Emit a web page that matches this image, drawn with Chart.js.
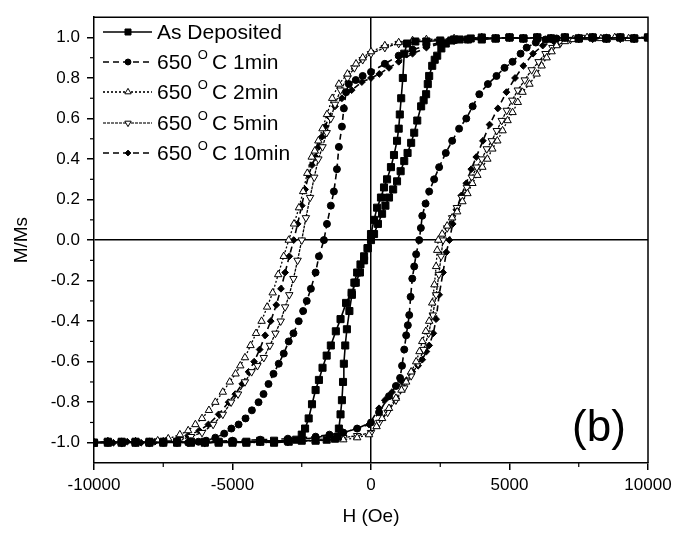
<!DOCTYPE html>
<html>
<head>
<meta charset="utf-8">
<script src="https://cdn.jsdelivr.net/npm/chart.js@4.4.1/dist/chart.umd.min.js"></script>
<style>
  html, body { margin: 0; padding: 0; background: #fff; }
  #wrap { width: 686px; height: 533px; }
</style>
</head>
<body>
<div id="wrap"><canvas id="loops" width="686" height="533"></canvas></div>
<script>
// axis ticks
const xTicks = [-10000, -5000, 0, 5000, 10000];
const xMinorTicks = [-7500, -2500, 2500, 7500];
const yTicks = [-1.0, -0.8, -0.6, -0.4, -0.2, 0.0, 0.2, 0.4, 0.6, 0.8, 1.0];
const yMinorTicks = [-0.9, -0.7, -0.5, -0.3, -0.1, 0.1, 0.3, 0.5, 0.7, 0.9];

const seriesNames = ['As Deposited', '650 °C 1min', '650 °C 2min', '650 °C 5min', '650 °C 10min'];

// As Deposited : [H (Oe), M/Ms]
const asDepDown = [[10000,1.0],[9500,0.995],[9000,1.0],[8500,0.995],[8000,1.0],[7500,0.995],[7000,1.0],[6500,0.995],[6000,1.0],[5500,0.995],[5000,1.0],[4500,0.995],[4000,0.99],[3500,0.99],[3000,0.99],[2500,0.985],[2000,0.98],[1600,0.98],[1300,0.97],[1200,0.92],[1150,0.80],[1090,0.70],[1040,0.62],[1000,0.55],[940,0.49],[830,0.42],[720,0.36],[580,0.30],[470,0.26],[360,0.21],[220,0.16],[110,0.10],[0,0.03],[-120,-0.04],[-250,-0.10],[-400,-0.16],[-550,-0.21],[-700,-0.26],[-900,-0.31],[-1100,-0.39],[-1270,-0.45],[-1450,-0.52],[-1600,-0.57],[-1750,-0.63],[-1880,-0.69],[-2000,-0.74],[-2130,-0.81],[-2250,-0.88],[-2380,-0.93],[-2500,-0.96],[-2700,-0.985],[-2970,-0.995],[-3500,-1.0],[-4000,-0.995],[-4500,-1.0],[-5000,-0.995],[-5500,-1.0],[-6000,-0.995],[-6500,-1.0],[-7000,-0.995],[-7500,-1.0],[-8000,-0.995],[-8500,-1.0],[-9000,-0.995],[-9500,-1.0],[-10000,-1.0]];
const asDepUp = [[-10000,-1.0],[-9500,-0.995],[-9000,-1.0],[-8500,-0.995],[-8000,-1.0],[-7500,-0.995],[-7000,-1.0],[-6500,-0.995],[-6000,-1.0],[-5500,-0.995],[-5000,-1.0],[-4500,-0.995],[-4000,-0.99],[-3500,-0.99],[-3000,-0.99],[-2500,-0.99],[-2000,-0.99],[-1600,-0.985],[-1300,-0.98],[-1200,-0.97],[-1160,-0.93],[-1100,-0.86],[-1050,-0.79],[-1010,-0.70],[-980,-0.61],[-930,-0.52],[-870,-0.44],[-780,-0.35],[-690,-0.27],[-600,-0.21],[-500,-0.16],[-380,-0.12],[-250,-0.08],[-120,-0.04],[0,0.0],[110,0.03],[250,0.08],[400,0.13],[520,0.17],[650,0.21],[800,0.25],[940,0.29],[1070,0.34],[1200,0.39],[1320,0.43],[1450,0.48],[1560,0.53],[1670,0.59],[1810,0.66],[1900,0.69],[1990,0.72],[2050,0.77],[2100,0.81],[2210,0.86],[2300,0.89],[2390,0.91],[2540,0.946],[2700,0.97],[2900,0.985],[3200,0.99],[3600,0.995],[4000,1.0],[4500,0.995],[5000,1.0],[5500,0.995],[6000,1.0],[6500,0.995],[7000,1.0],[7500,0.995],[8000,1.0],[8500,0.995],[9000,1.0],[9500,0.995],[10000,1.0]];

// 650 C 1min
const min1Down = [[10000,1.0],[9500,0.995],[9000,1.0],[8500,0.995],[8000,1.0],[7500,0.995],[7000,1.0],[6500,0.995],[6000,1.0],[5500,0.995],[5000,1.0],[4500,0.995],[4000,0.995],[3500,0.99],[3000,0.985],[2500,0.975],[2000,0.96],[1500,0.94],[1000,0.91],[500,0.87],[0,0.83],[-300,0.81],[-550,0.79],[-800,0.77],[-900,0.73],[-980,0.65],[-1050,0.56],[-1160,0.46],[-1230,0.35],[-1340,0.24],[-1450,0.17],[-1590,0.08],[-1700,0.0],[-1880,-0.08],[-2000,-0.16],[-2170,-0.24],[-2320,-0.30],[-2450,-0.35],[-2610,-0.40],[-2800,-0.46],[-2970,-0.50],[-3150,-0.56],[-3330,-0.61],[-3520,-0.66],[-3700,-0.71],[-3880,-0.76],[-4060,-0.80],[-4300,-0.84],[-4530,-0.88],[-4780,-0.91],[-5040,-0.93],[-5300,-0.955],[-5620,-0.975],[-5950,-0.99],[-6230,-0.995],[-6600,-1.0],[-7000,-0.995],[-7500,-1.0],[-8000,-0.995],[-8500,-1.0],[-9000,-0.995],[-9500,-1.0],[-10000,-1.0]];
const min1Up = [[-10000,-1.0],[-9500,-0.995],[-9000,-1.0],[-8500,-0.995],[-8000,-1.0],[-7500,-0.995],[-7000,-1.0],[-6500,-0.995],[-6000,-0.995],[-5000,-0.99],[-4000,-0.985],[-3000,-0.98],[-2000,-0.97],[-1500,-0.96],[-1000,-0.95],[-500,-0.93],[0,-0.90],[290,-0.85],[650,-0.77],[900,-0.72],[1050,-0.68],[1120,-0.62],[1200,-0.54],[1270,-0.47],[1330,-0.42],[1380,-0.37],[1430,-0.28],[1490,-0.19],[1560,-0.13],[1630,-0.07],[1740,0.0],[1800,0.06],[1850,0.12],[1970,0.18],[2100,0.24],[2280,0.30],[2460,0.36],[2700,0.43],[2930,0.49],[3180,0.55],[3440,0.60],[3670,0.66],[3910,0.72],[4220,0.77],[4530,0.81],[4820,0.85],[5110,0.88],[5400,0.92],[5620,0.95],[5950,0.975],[6300,0.99],[6700,0.995],[7000,1.0],[7500,0.995],[8000,1.0],[8500,0.995],[9000,1.0],[9500,0.995],[10000,1.0]];

// 650 C 2min
const min2Down = [[10000,1.0],[9500,0.995],[9000,1.0],[8500,0.995],[8000,1.0],[7500,0.995],[7000,1.0],[6500,0.995],[6000,1.0],[5500,0.995],[5000,1.0],[4500,0.995],[4000,1.0],[3000,0.995],[2000,0.99],[1500,0.985],[1000,0.975],[500,0.96],[0,0.93],[-300,0.90],[-540,0.87],[-850,0.82],[-1160,0.77],[-1400,0.70],[-1590,0.62],[-1750,0.55],[-1900,0.49],[-2030,0.44],[-2140,0.41],[-2300,0.33],[-2450,0.24],[-2600,0.16],[-2780,0.08],[-2970,0.0],[-3150,-0.08],[-3350,-0.17],[-3550,-0.26],[-3750,-0.33],[-3950,-0.40],[-4150,-0.46],[-4350,-0.52],[-4550,-0.58],[-4720,-0.62],[-4890,-0.66],[-5100,-0.70],[-5350,-0.75],[-5620,-0.80],[-5850,-0.84],[-6100,-0.88],[-6340,-0.91],[-6600,-0.94],[-6900,-0.96],[-7320,-0.98],[-7700,-0.99],[-8000,-1.0],[-8500,-0.995],[-9000,-1.0],[-9500,-0.995],[-10000,-1.0]];
const min2Up = [[-10000,-1.0],[-9500,-0.995],[-9000,-1.0],[-8500,-0.995],[-8000,-1.0],[-7500,-0.995],[-7000,-1.0],[-6500,-0.995],[-6000,-1.0],[-5000,-0.995],[-4000,-1.0],[-3000,-0.995],[-2000,-0.99],[-1000,-0.985],[-500,-0.975],[-70,-0.96],[200,-0.92],[400,-0.88],[650,-0.83],[900,-0.78],[1100,-0.74],[1270,-0.70],[1450,-0.65],[1630,-0.60],[1750,-0.55],[1850,-0.50],[1980,-0.45],[2100,-0.40],[2210,-0.31],[2290,-0.22],[2350,-0.13],[2390,-0.05],[2430,0.0],[2570,0.03],[2750,0.07],[2930,0.11],[3110,0.14],[3300,0.19],[3480,0.23],[3660,0.28],[3840,0.32],[4020,0.36],[4200,0.40],[4380,0.45],[4560,0.49],[4750,0.54],[4930,0.59],[5110,0.63],[5300,0.68],[5470,0.73],[5720,0.77],[5980,0.82],[6160,0.86],[6340,0.90],[6520,0.93],[6700,0.96],[7000,0.98],[7300,0.99],[7800,1.0],[8300,0.995],[8800,1.0],[9300,0.995],[10000,1.0]];

// 650 C 5min
const min5Down = [[10000,1.0],[9500,0.995],[9000,1.0],[8500,0.995],[8000,1.0],[7500,0.995],[7000,1.0],[6500,0.995],[6000,1.0],[5500,0.995],[5000,1.0],[4000,0.995],[3000,0.995],[2000,0.985],[1000,0.97],[500,0.95],[0,0.92],[-300,0.89],[-600,0.85],[-850,0.80],[-1100,0.74],[-1300,0.67],[-1450,0.60],[-1600,0.53],[-1750,0.46],[-1900,0.40],[-2050,0.31],[-2200,0.21],[-2350,0.11],[-2500,0.0],[-2650,-0.10],[-2800,-0.19],[-2950,-0.27],[-3100,-0.33],[-3260,-0.40],[-3450,-0.46],[-3650,-0.52],[-3870,-0.58],[-4100,-0.62],[-4310,-0.65],[-4550,-0.70],[-4800,-0.76],[-5050,-0.80],[-5350,-0.86],[-5700,-0.91],[-6100,-0.95],[-6500,-0.97],[-6900,-0.985],[-7500,-0.995],[-8000,-1.0],[-8500,-0.995],[-9000,-1.0],[-9500,-0.995],[-10000,-1.0]];
const min5Up = [[-10000,-1.0],[-9500,-0.995],[-9000,-1.0],[-8500,-0.995],[-8000,-1.0],[-7000,-0.995],[-6000,-1.0],[-5000,-0.995],[-4000,-0.995],[-3000,-0.995],[-2000,-0.985],[-1000,-0.975],[-500,-0.965],[0,-0.95],[300,-0.90],[600,-0.85],[900,-0.79],[1200,-0.73],[1450,-0.67],[1700,-0.61],[1900,-0.54],[2080,-0.46],[2230,-0.37],[2350,-0.27],[2450,-0.17],[2530,-0.08],[2600,0.0],[2750,0.06],[2930,0.11],[3100,0.16],[3280,0.21],[3460,0.26],[3640,0.31],[3820,0.36],[4000,0.40],[4180,0.45],[4360,0.49],[4540,0.54],[4720,0.59],[4900,0.64],[5100,0.69],[5300,0.74],[5550,0.79],[5800,0.84],[6050,0.88],[6300,0.92],[6550,0.95],[6850,0.975],[7200,0.99],[7600,1.0],[8000,0.995],[8500,1.0],[9000,0.995],[9500,1.0],[10000,1.0]];

// 650 C 10min
const min10Down = [[10000,1.0],[9500,0.995],[9000,1.0],[8500,0.995],[8000,1.0],[7500,0.995],[7000,1.0],[6500,0.995],[6000,1.0],[5500,0.995],[5000,1.0],[4500,0.995],[4000,0.995],[3500,0.99],[3000,0.985],[2500,0.97],[2000,0.95],[1500,0.92],[1000,0.88],[650,0.85],[300,0.82],[0,0.80],[-330,0.78],[-700,0.74],[-1050,0.70],[-1300,0.66],[-1520,0.61],[-1650,0.56],[-1770,0.51],[-1890,0.46],[-2000,0.41],[-2130,0.37],[-2250,0.32],[-2380,0.25],[-2500,0.17],[-2650,0.08],[-2790,0.0],[-2950,-0.08],[-3100,-0.16],[-3250,-0.24],[-3420,-0.32],[-3620,-0.40],[-3820,-0.47],[-4020,-0.54],[-4220,-0.60],[-4420,-0.65],[-4650,-0.71],[-4900,-0.76],[-5140,-0.80],[-5500,-0.86],[-5870,-0.91],[-6200,-0.94],[-6600,-0.965],[-6960,-0.98],[-7400,-0.99],[-7800,-0.995],[-8300,-1.0],[-8800,-0.995],[-9300,-1.0],[-10000,-1.0]];
const min10Up = [[-10000,-1.0],[-9500,-0.995],[-9000,-1.0],[-8500,-0.995],[-8000,-1.0],[-7000,-0.995],[-6000,-1.0],[-5000,-0.995],[-4000,-0.995],[-3000,-0.99],[-2000,-0.975],[-1000,-0.95],[-500,-0.93],[-70,-0.91],[290,-0.83],[500,-0.79],[760,-0.75],[1120,-0.70],[1490,-0.65],[1700,-0.62],[1850,-0.59],[2000,-0.55],[2100,-0.52],[2250,-0.46],[2350,-0.39],[2460,-0.27],[2600,-0.16],[2720,-0.06],[2830,0.0],[2950,0.08],[3080,0.15],[3260,0.22],[3440,0.28],[3620,0.35],[3800,0.41],[4040,0.49],[4280,0.57],[4580,0.65],[4890,0.73],[5200,0.80],[5500,0.86],[5850,0.92],[6200,0.96],[6600,0.98],[7000,0.99],[7500,1.0],[8000,0.995],[8500,1.0],[9000,0.995],[9500,1.0],[10000,1.0]];

function toPts(branches) {
  const pts = [];
  branches.forEach(b => b.forEach(p => pts.push({ x: p[0], y: p[1] })));
  return pts;
}

const datasets = [
  { label: seriesNames[0], data: toPts([asDepDown, asDepUp]), borderDash: [],
    pointStyle: 'rect', pointRadius: 5, pointBackgroundColor: '#000', borderWidth: 1.6, rotation: 0 },
  { label: seriesNames[1], data: toPts([min1Down, min1Up]), borderDash: [6, 4],
    pointStyle: 'circle', pointRadius: 3.5, pointBackgroundColor: '#000', borderWidth: 1.6, rotation: 0 },
  { label: seriesNames[2], data: toPts([min2Down, min2Up]), borderDash: [2, 2],
    pointStyle: 'triangle', pointRadius: 4.3, pointBackgroundColor: '#fff', borderWidth: 1.3, rotation: 0 },
  { label: seriesNames[3], data: toPts([min5Down, min5Up]), borderDash: [3, 1],
    pointStyle: 'triangle', pointRadius: 4.3, pointBackgroundColor: '#fff', borderWidth: 1.3, rotation: 180 },
  { label: seriesNames[4], data: toPts([min10Down, min10Up]), borderDash: [6, 4],
    pointStyle: 'rectRot', pointRadius: 3.4, pointBackgroundColor: '#000', borderWidth: 1.6, rotation: 0 }
].map(d => Object.assign({
  showLine: true, fill: false, tension: 0,
  borderColor: '#000', pointBorderColor: '#000', pointBorderWidth: 1,
  pointRotation: d.rotation
}, d));

const FONT = 'Liberation Sans, Arial, Helvetica, sans-serif';

// cadre, petites graduations, légende et "(b)"
const extras = {
  id: 'extras',
  afterDraw(chart) {
    const ctx = chart.ctx;
    const a = chart.chartArea;
    const xs = chart.scales.x, ys = chart.scales.y;
    ctx.save();
    ctx.strokeStyle = '#000';
    ctx.lineWidth = 1.5;
    ctx.beginPath();
    ctx.moveTo(a.left, a.top); ctx.lineTo(a.right, a.top); ctx.lineTo(a.right, a.bottom);
    ctx.stroke();

    ctx.lineWidth = 1.2;
    yMinorTicks.forEach(v => {
      const y = ys.getPixelForValue(v);
      ctx.beginPath(); ctx.moveTo(a.left - 4, y); ctx.lineTo(a.left, y); ctx.stroke();
    });
    xMinorTicks.forEach(v => {
      const x = xs.getPixelForValue(v);
      ctx.beginPath(); ctx.moveTo(x, a.bottom); ctx.lineTo(x, a.bottom + 4); ctx.stroke();
    });

    // légende
    const rowY = [32, 62, 92, 123, 153];
    chart.data.datasets.forEach((ds, i) => {
      const y = rowY[i];
      ctx.save();
      ctx.lineWidth = 1.6;
      ctx.setLineDash(ds.borderDash);
      ctx.strokeStyle = i === 3 ? '#444' : '#000';
      ctx.beginPath(); ctx.moveTo(103, y); ctx.lineTo(152, y); ctx.stroke();
      ctx.setLineDash([]);
      ctx.fillStyle = ds.pointBackgroundColor;
      ctx.strokeStyle = '#000';
      ctx.lineWidth = ds.pointBorderWidth;
      Chart.helpers.drawPoint(ctx, {
        pointStyle: ds.pointStyle,
        rotation: ds.pointRotation,
        radius: ds.pointRadius * 0.85,
        borderWidth: ds.pointBorderWidth
      }, 128, y);
      ctx.restore();

      ctx.fillStyle = '#000';
      ctx.textBaseline = 'alphabetic';
      ctx.textAlign = 'left';
      ctx.font = '21px ' + FONT;
      const base = y + 7;
      if (i === 0) {
        ctx.fillText(ds.label, 157, base);
      } else {
        const parts = ds.label.split('°');
        let x = 157;
        ctx.fillText(parts[0], x, base);
        x += ctx.measureText(parts[0]).width;
        ctx.font = '13px ' + FONT;
        ctx.fillText('O', x, base - 10);
        x += ctx.measureText('O').width + 4;
        ctx.font = '21px ' + FONT;
        ctx.fillText(parts[1], x, base);
      }
    });

    ctx.font = '44px ' + FONT;
    ctx.textAlign = 'center';
    ctx.fillText('(b)', 599, 441);
    ctx.restore();
  }
};

new Chart(document.getElementById('loops'), {
  type: 'scatter',
  data: { datasets: datasets },
  plugins: [extras],
  options: {
    responsive: false,
    animation: false,
    devicePixelRatio: 1,
    layout: { padding: { top: 11, right: 38, left: 0, bottom: 0 } },
    plugins: { legend: { display: false }, tooltip: { enabled: false } },
    scales: {
      x: {
        type: 'linear', min: -10000, max: 10000,
        afterBuildTicks: s => { s.ticks = xTicks.map(v => ({ value: v })); },
        afterFit: s => { s.height = 70; },
        ticks: { font: { size: 17, family: FONT }, color: '#000', padding: 5, maxRotation: 0,
                 callback: v => String(v) },
        grid: {
          drawOnChartArea: true,
          color: c => (c.tick && c.tick.value === 0 ? '#000' : 'rgba(0,0,0,0)'),
          lineWidth: 1.5, tickLength: 7, tickColor: '#000', tickWidth: 1.5
        },
        border: { display: true, color: '#000', width: 1.5 },
        title: { display: true, text: 'H (Oe)', color: '#000', font: { size: 19, family: FONT }, padding: { bottom: 5 } }
      },
      y: {
        type: 'linear', min: -1.1, max: 1.1,
        afterBuildTicks: s => { s.ticks = yTicks.map(v => ({ value: v })); },
        afterFit: s => { s.width = 94; },
        ticks: { font: { size: 17, family: FONT }, color: '#000', padding: 7,
                 callback: v => v.toFixed(1) },
        grid: {
          drawOnChartArea: true,
          color: c => (c.tick && Math.abs(c.tick.value) < 1e-9 ? '#000' : 'rgba(0,0,0,0)'),
          lineWidth: 1.5, tickLength: 7, tickColor: '#000', tickWidth: 1.5
        },
        border: { display: true, color: '#000', width: 1.5 },
        title: { display: true, text: 'M/Ms', color: '#000', font: { size: 19, family: FONT }, padding: { top: 10 } }
      }
    }
  }
});
</script>
</body>
</html>
